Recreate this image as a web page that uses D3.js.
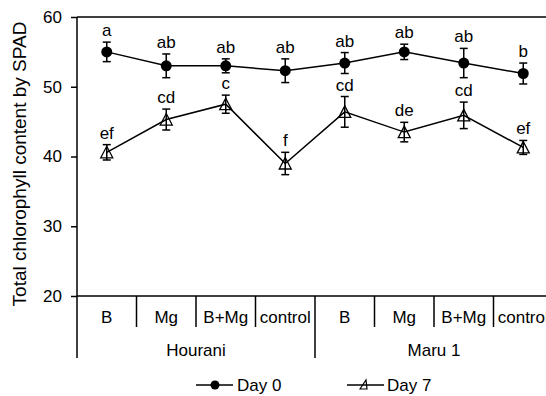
<!DOCTYPE html>
<html>
<head>
<meta charset="utf-8">
<script src="https://d3js.org/d3.v7.min.js"></script>
<style>
  body { margin: 0; background: #fff; }
  svg { display: block; }
  text { font-family: Arial, "Liberation Sans", sans-serif; fill: #000; }
</style>
</head>
<body>
<svg id="chart" width="546" height="396"></svg>
<script>
// data
const categories = ["B", "Mg", "B+Mg", "control", "B", "Mg", "B+Mg", "control"];
const groups = ["Hourani", "Maru 1"];
const yTicks = [20, 30, 40, 50, 60];

const day0 = [55.0, 53.0, 53.0, 52.3, 53.4, 55.0, 53.4, 51.9];
const day0_err = [1.4, 1.7, 1.0, 1.7, 1.5, 1.1, 2.1, 1.5];
const day0_letters = ["a", "ab", "ab", "ab", "ab", "ab", "ab", "b"];

const day7 = [40.6, 45.3, 47.5, 39.0, 46.4, 43.5, 45.9, 41.3];
const day7_err = [1.1, 1.5, 1.3, 1.6, 2.2, 1.4, 1.9, 1.0];
const day7_letters = ["ef", "cd", "c", "f", "cd", "de", "cd", "ef"];

const svg = d3.select("#chart");

const plotL = 77, plotR = 553, plotT = 17, plotB = 296;
const fs = "17px";

const x = d3.scaleBand()
    .domain(d3.range(categories.length))
    .range([plotL, plotR]);

const y = d3.scaleLinear()
    .domain([20, 60])
    .range([plotB, plotT]);

const cx = i => x(i) + x.bandwidth() / 2;

// y axis
const yAxis = svg.append("g")
    .attr("transform", `translate(${plotL},0)`)
    .call(d3.axisLeft(y).tickValues(yTicks).tickSize(6).tickPadding(9).tickSizeOuter(0));
yAxis.select(".domain").remove();
yAxis.selectAll("line").attr("stroke", "#000").attr("stroke-width", 1.5);
yAxis.selectAll("text").style("font-size", fs).attr("font-family", null);

// frame lines
svg.append("line").attr("x1", plotL).attr("x2", plotL).attr("y1", plotT).attr("y2", 358)
    .attr("stroke", "#000").attr("stroke-width", 1.5);
svg.append("line").attr("x1", plotL).attr("x2", plotR).attr("y1", plotT).attr("y2", plotT)
    .attr("stroke", "#000").attr("stroke-width", 1.5);
svg.append("line").attr("x1", plotL).attr("x2", plotR).attr("y1", plotB).attr("y2", plotB)
    .attr("stroke", "#000").attr("stroke-width", 1.5);

// category dividers
svg.selectAll(".cdiv")
    .data(d3.range(1, categories.length + 1))
    .join("line")
    .attr("x1", i => i < categories.length ? x(i) : plotR)
    .attr("x2", i => i < categories.length ? x(i) : plotR)
    .attr("y1", plotB)
    .attr("y2", i => i % 4 === 0 ? 358 : 327)
    .attr("stroke", "#000").attr("stroke-width", 1.5);

svg.selectAll(".clab")
    .data(categories)
    .join("text")
    .attr("x", (d, i) => cx(i))
    .attr("y", 323)
    .attr("text-anchor", "middle")
    .style("font-size", fs)
    .text(d => d);

svg.selectAll(".glab")
    .data(groups)
    .join("text")
    .attr("x", (d, i) => (x(i * 4) + x(i * 4 + 3) + x.bandwidth()) / 2)
    .attr("y", 356)
    .attr("text-anchor", "middle")
    .style("font-size", fs)
    .text(d => d);

// y label
svg.append("text")
    .attr("transform", "translate(26,164) rotate(-90)")
    .attr("text-anchor", "middle")
    .style("font-size", "19px")
    .text("Total chlorophyll content by SPAD");

const line = d3.line().x((d, i) => cx(i)).y(d => y(d));

function drawSeries(vals, errs, letters, marker) {
    const g = svg.append("g");
    g.append("path").datum(vals)
        .attr("d", line).attr("fill", "none").attr("stroke", "#000").attr("stroke-width", 1.5);

    const eb = g.selectAll(".eb").data(vals).join("g");
    eb.append("line")
        .attr("x1", (d, i) => cx(i)).attr("x2", (d, i) => cx(i))
        .attr("y1", (d, i) => y(d + errs[i])).attr("y2", (d, i) => y(d - errs[i]))
        .attr("stroke", "#000").attr("stroke-width", 1.5);
    [1, -1].forEach(s => {
        eb.append("line")
            .attr("x1", (d, i) => cx(i) - 4).attr("x2", (d, i) => cx(i) + 4)
            .attr("y1", (d, i) => y(d + s * errs[i])).attr("y2", (d, i) => y(d + s * errs[i]))
            .attr("stroke", "#000").attr("stroke-width", 1.5);
    });

    if (marker === "circle") {
        g.selectAll(".m").data(vals).join("circle")
            .attr("cx", (d, i) => cx(i)).attr("cy", d => y(d)).attr("r", 5.5)
            .attr("fill", "#000");
    } else {
        g.selectAll(".m").data(vals).join("path")
            .attr("transform", (d, i) => `translate(${cx(i)},${y(d)})`)
            .attr("d", "M0,-6L6,5.5L-6,5.5Z")
            .attr("fill", "none").attr("stroke", "#000").attr("stroke-width", 1.3);
    }

    g.selectAll(".lt").data(letters).join("text")
        .attr("x", (d, i) => cx(i))
        .attr("y", (d, i) => y(vals[i] + errs[i]) - 6)
        .attr("text-anchor", "middle")
        .style("font-size", fs)
        .text(d => d);
}

drawSeries(day0, day0_err, day0_letters, "circle");
drawSeries(day7, day7_err, day7_letters, "triangle");

// legend
const lg = svg.append("g");
lg.append("line").attr("x1", 196).attr("x2", 233).attr("y1", 385).attr("y2", 385)
    .attr("stroke", "#000").attr("stroke-width", 1.5);
lg.append("circle").attr("cx", 215).attr("cy", 385).attr("r", 4.5).attr("fill", "#000");
lg.append("text").attr("x", 237).attr("y", 391).style("font-size", fs).text("Day 0");

lg.append("line").attr("x1", 347).attr("x2", 384).attr("y1", 385).attr("y2", 385)
    .attr("stroke", "#000").attr("stroke-width", 1.5);
lg.append("path").attr("d", "M360,389L366,380L367,389Z")
    .attr("fill", "none").attr("stroke", "#000").attr("stroke-width", 1.2);
lg.append("text").attr("x", 387).attr("y", 391).style("font-size", fs).text("Day 7");
</script>
</body>
</html>
